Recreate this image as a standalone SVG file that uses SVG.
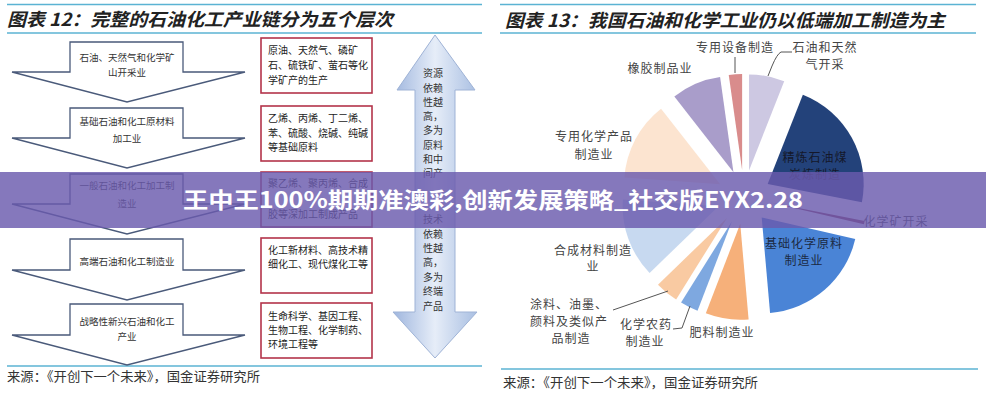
<svg xmlns="http://www.w3.org/2000/svg" width="986" height="400" viewBox="0 0 986 400">
<defs>
<linearGradient id="shaft" x1="0" y1="0" x2="1" y2="0">
<stop offset="0" stop-color="#9fb6de"/>
<stop offset="0.5" stop-color="#e6edf8"/>
<stop offset="1" stop-color="#a9bfe2"/>
</linearGradient>
<style>
.t{font-family:"Noto Sans CJK SC","Noto Sans",sans-serif}
.title{font-size:18px;font-weight:700;font-style:italic;fill:#222}
.rule{stroke:#5bb3d3;stroke-width:1.6}
.arrow{fill:#fff;stroke:#4a5a7a;stroke-width:1.3;stroke-linejoin:miter}
.at{font-size:9.5px;fill:#333;text-anchor:middle}
.box{fill:#fff;stroke:#b3344a;stroke-width:1.6}
.bt{font-size:10px;fill:#222}
.vt{font-size:10px;fill:#333;text-anchor:middle}
.pl{font-size:12px;fill:#444;text-anchor:middle;letter-spacing:1px}
.il{font-size:12px;text-anchor:middle;letter-spacing:1px}
.lead{fill:none;stroke:#555;stroke-width:1}
.src{font-size:13px;fill:#333}
</style>
</defs>
<rect width="986" height="400" fill="#fff"/>

<!-- left panel frame -->
<g id="left-frame">
<line class="rule" x1="7" y1="4.5" x2="482" y2="4.5"/>
<line class="rule" x1="7" y1="33" x2="482" y2="33"/>
<line class="rule" x1="7" y1="366" x2="482" y2="366"/>
<text class="t title" x="7" y="26" textLength="386" lengthAdjust="spacingAndGlyphs">图表 12：完整的石油化工产业链分为五个层次</text>
<text class="t src" x="7" y="381" textLength="253" lengthAdjust="spacingAndGlyphs">来源：《开创下一个未来》，国金证券研究所</text>
</g>

<!-- left chevrons -->
<g id="level1">
<polygon class="arrow" points="70,42 183,42 183,72 245,72 127,102 12,72 70,72"/>
<text class="t at" x="127" y="61">石油、天然气和化学矿</text>
<text class="t at" x="127" y="76">山开采业</text>
</g>
<g id="level2">
<polygon class="arrow" points="70,108 183,108 183,138 245,138 127,168 12,138 70,138"/>
<text class="t at" x="127" y="125">基础石油和化工原材料</text>
<text class="t at" x="127" y="142">加工业</text>
</g>
<g id="level3">
<polygon class="arrow" points="70,174 183,174 183,204 245,204 127,234 12,204 70,204"/>
<text class="t at" x="127" y="189">一般石油和化工加工制</text>
<text class="t at" x="127" y="207">造业</text>
</g>
<g id="level4">
<polygon class="arrow" points="70,239 183,239 183,270 245,270 127,300 12,270 70,270"/>
<text class="t at" x="127" y="265">高端石油和化工制造业</text>
</g>
<g id="level5">
<polygon class="arrow" points="70,304 183,304 183,335 245,335 127,365 12,335 70,335"/>
<text class="t at" x="127" y="325">战略性新兴石油和化工</text>
<text class="t at" x="127" y="340">产业</text>
</g>

<!-- description boxes -->
<g id="desc1">
<rect class="box" x="261" y="38" width="111" height="55"/>
<text class="t bt" x="268" y="53.5">原油、天然气、磷矿</text>
<text class="t bt" x="268" y="68.5">石、硫铁矿、萤石等化</text>
<text class="t bt" x="268" y="83.5">学矿产的生产</text>
</g>
<g id="desc2">
<rect class="box" x="261" y="106" width="111" height="55"/>
<text class="t bt" x="268" y="122">乙烯、丙烯、丁二烯、</text>
<text class="t bt" x="268" y="137">苯、硫酸、烧碱、纯碱</text>
<text class="t bt" x="268" y="151">等基础原料</text>
</g>
<g id="desc3">
<rect class="box" x="261" y="172" width="111" height="55"/>
<text class="t bt" x="268" y="187">聚乙烯、聚丙烯、合成</text>
<text class="t bt" x="268" y="218">胶等深加工制成产品</text>
</g>
<g id="desc4">
<rect class="box" x="261" y="238" width="111" height="55"/>
<text class="t bt" x="268" y="254">化工新材料、高技术精</text>
<text class="t bt" x="268" y="268">细化工、现代煤化工等</text>
</g>
<g id="desc5">
<rect class="box" x="261" y="303" width="111" height="55"/>
<text class="t bt" x="268" y="320">生命科学、基因工程、</text>
<text class="t bt" x="268" y="334">生物工程、化学制药、</text>
<text class="t bt" x="268" y="348">环境工程等</text>
</g>

<!-- double arrow -->
<g id="double-arrow">
<polygon points="435,35 475,90 455,90 455,312 477,312 435,358 393,312 415,312 415,90 397,90" fill="url(#shaft)" stroke="#9fb3d6" stroke-width="1"/>
<text class="t vt" x="433" y="77">资源</text>
<text class="t vt" x="433" y="92">依赖</text>
<text class="t vt" x="433" y="106">性越</text>
<text class="t vt" x="433" y="120">高，</text>
<text class="t vt" x="433" y="134">多为</text>
<text class="t vt" x="433" y="149">原料</text>
<text class="t vt" x="433" y="163">和中</text>
<text class="t vt" x="433" y="177">间产</text>
<text class="t vt" x="433" y="223">技术</text>
<text class="t vt" x="433" y="238">依赖</text>
<text class="t vt" x="433" y="252">性越</text>
<text class="t vt" x="433" y="266">高，</text>
<text class="t vt" x="433" y="281">多为</text>
<text class="t vt" x="433" y="295">终端</text>
<text class="t vt" x="433" y="310">产品</text>
</g>

<!-- right panel frame -->
<g id="right-frame">
<line class="rule" x1="500" y1="4.5" x2="976" y2="4.5"/>
<line class="rule" x1="500" y1="33" x2="976" y2="33"/>
<line class="rule" x1="501" y1="369" x2="978" y2="369"/>
<text class="t title" x="505" y="27" textLength="440" lengthAdjust="spacingAndGlyphs">图表 13：我国石油和化学工业仍以低端加工制造为主</text>
<text class="t src" x="503" y="387" textLength="255" lengthAdjust="spacingAndGlyphs">来源：《开创下一个未来》，国金证券研究所</text>
</g>

<!-- pie slices -->
<g id="slice-oilgas"><path d="M749.04,170.47 L749.04,74.47 A96,96 0 0 1 784.22,81.15 Z" fill="#cdc8e2"/></g>
<g id="slice-refining"><path d="M767.67,184.01 L802.85,94.69 A96,96 0 0 1 861.90,202.33 Z" fill="#23427a"/>
<text class="t il" x="815" y="162" fill="#14182a">精炼石油煤</text>
<text class="t il" x="815" y="179" fill="#14182a">炭炼制造</text></g>
<g id="slice-chemmining"><path d="M770.41,202.61 L864.64,220.93 A96,96 0 0 1 863.95,224.21 Z" fill="#8e3b50"/></g>
<g id="slice-basic"><path d="M761.71,217.38 L855.25,238.98 A96,96 0 0 1 770.08,313.02 Z" fill="#4a84d6"/>
<text class="t il" x="804" y="248" fill="#1b2a44">基础化学原料</text>
<text class="t il" x="804" y="265" fill="#1b2a44">制造业</text></g>
<g id="slice-fertilizer"><path d="M740.24,223.74 L748.61,319.38 A96,96 0 0 1 705.83,313.37 Z" fill="#f6b07a"/></g>
<g id="slice-pesticide"><path d="M731.95,221.16 L697.54,310.79 A96,96 0 0 1 681.08,302.57 Z" fill="#7ea8e0"/></g>
<g id="slice-coatings"><path d="M727.01,217.98 L676.14,299.39 A96,96 0 0 1 657.96,284.67 Z" fill="#f9caa2"/></g>
<g id="slice-synthetic"><path d="M718.63,206.23 L649.58,272.92 A96,96 0 0 1 622.86,199.53 Z" fill="#c7d9f0"/></g>
<g id="slice-special"><path d="M720.16,184.32 L624.39,177.62 A96,96 0 0 1 661.05,108.67 Z" fill="#fce4d0"/></g>
<g id="slice-rubber"><path d="M733.45,172.15 L674.34,96.50 A96,96 0 0 1 720.09,77.08 Z" fill="#a99dca"/></g>
<g id="slice-equipment"><path d="M742.12,170.06 L728.76,74.99 A96,96 0 0 1 742.12,74.06 Z" fill="#d98c8c"/></g>

<!-- connectors -->
<g id="connectors">
<path class="lead" d="M735,57 L735,73"/>
<path class="lead" d="M792,52 L781,52 Q777,54 772,66 L768,76"/>
<path class="lead" d="M613,310 L668,291"/>
<path class="lead" d="M673,329 L682,328 L690,306"/>
</g>

<!-- outside labels -->
<g id="labels">
<text class="t pl" x="735" y="52">专用设备制造</text>
<text class="t pl" x="825" y="52">石油和天然</text>
<text class="t pl" x="825" y="69">气开采</text>
<text class="t pl" x="660" y="73">橡胶制品业</text>
<text class="t pl" x="594" y="141">专用化学产品</text>
<text class="t pl" x="594" y="159">制造业</text>
<text class="t pl" x="593" y="255">合成材料制造</text>
<text class="t pl" x="593" y="271">业</text>
<text class="t pl" x="569" y="309">涂料、油墨、</text>
<text class="t pl" x="569" y="326">颜料及类似产</text>
<text class="t pl" x="571" y="343">品制造</text>
<text class="t pl" x="646" y="329">化学农药</text>
<text class="t pl" x="645" y="346">制造业</text>
<text class="t pl" x="722" y="337">肥料制造业</text>
<text class="t pl" x="896" y="226">化学矿开采</text>
</g>

<!-- banner -->
<g id="banner">
<rect x="0" y="172" width="986" height="56" fill="#6a5aad" fill-opacity="0.82"/>
<text class="t" x="493" y="208" font-size="22" font-weight="700" fill="#fff" text-anchor="middle" textLength="620" lengthAdjust="spacingAndGlyphs">王中王100%期期准澳彩,创新发展策略_社交版EYX2.28</text>
</g>
</svg>
